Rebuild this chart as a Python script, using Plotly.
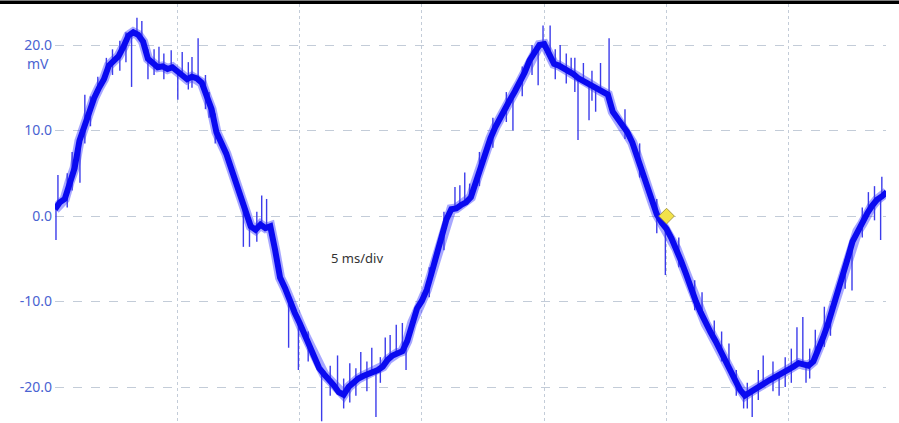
import plotly.graph_objects as go

# ---- data ----
t_step_ms = 0.2
signal_mv = [
    0.8, 1.6, 2.0, 4.0, 5.6, 8.8, 10.6, 12.4, 13.8, 15.0,
    16.0, 17.6, 18.1, 18.7, 19.8, 21.1, 21.5, 21.2, 20.4, 18.4,
    17.9, 17.4, 17.5, 17.2, 17.4, 17.0, 16.4, 16.0, 16.3, 16.1,
    15.6, 14.0, 12.5, 9.8, 8.7, 7.3, 5.6, 4.0, 2.4, 0.5,
    -1.2, -1.6, -1.0, -1.4, -1.2, -4.0, -7.2, -8.4, -10.0, -11.3,
    -12.5, -13.8, -15.1, -16.5, -17.8, -18.5, -19.1, -19.8, -20.6, -20.9,
    -20.0, -19.4, -19.0, -18.7, -18.5, -18.3, -18.0, -17.6, -16.8, -16.3,
    -16.0, -15.8, -14.6, -12.5, -10.8, -9.9, -8.6, -6.6, -4.6, -2.4,
    -0.4, 0.8, 0.9, 1.3, 1.6, 2.2, 4.0, 6.0, 7.8, 9.1,
    10.4, 11.6, 12.6, 13.6, 14.6, 15.6, 16.8, 18.2, 19.2, 20.0,
    20.1, 18.9, 17.8, 17.6, 17.3, 16.9, 16.6, 16.1, 15.8, 15.5,
    15.2, 14.8, 14.5, 14.2, 12.2, 11.4, 10.5, 9.8, 8.6, 7.0,
    4.9, 3.4, 1.8, 0.2, -0.8, -1.5, -2.6, -3.8, -5.3, -6.8,
    -8.6, -10.0, -11.3, -12.6, -13.6, -14.6, -15.8, -16.9, -18.0, -19.2,
    -20.3, -21.0, -20.6, -20.2, -19.8, -19.5, -19.2, -18.9, -18.6, -18.3,
    -18.0, -17.6, -17.2, -17.4, -17.5, -17.0, -15.8, -14.2, -12.6, -10.8,
    -8.6, -6.9, -5.0, -3.0, -1.8, -0.9, 0.3, 1.2, 1.9, 2.3,
    2.8,
]
time_ms = [round(i * t_step_ms, 1) for i in range(len(signal_mv))]

spike_t = [0.04, 0.12, 0.5, 0.7, 1.02, 1.22, 1.45, 1.75, 2.1, 2.35,
           2.65, 2.9, 3.13, 3.35, 3.55, 3.8, 4.05, 4.25, 4.45, 4.75,
           5.02, 5.2, 5.45, 5.6, 5.85, 6.15, 6.3, 6.55, 7.7, 7.95,
           8.25, 8.45, 8.65, 9.55, 9.95, 10.35, 10.9, 11.25, 11.55, 11.8,
           12.05, 12.3, 12.5, 12.75, 12.95, 13.12, 13.3, 13.5, 13.7, 13.95,
           14.2, 14.35, 15.3, 15.9, 16.35, 16.55, 16.75, 16.95, 17.35, 17.9,
           18.45, 18.72, 19.1, 19.5, 19.75, 19.95, 20.24, 20.45, 20.65, 20.9,
           21.1, 21.25, 21.38, 21.6, 21.83, 21.95, 22.1, 22.3, 22.65, 23.3,
           23.9, 24.6, 24.95, 25.5, 26.15, 26.45, 26.95, 27.25, 27.55, 27.85,
           28.15, 28.3, 28.5, 28.75, 28.95, 29.35, 29.6, 29.85, 30.1, 30.33,
           30.57, 30.7, 30.85, 31.08, 31.45, 31.7, 32.3, 32.58, 33.0, 33.25,
           33.5, 33.75, 33.8]
spike_lo = [-2.8, 1.0, 1.0, 3.0, 3.9, 8.5, 10.5, 14.5, 16.0, 16.5,
            17.0, 18.0, 15.1, 21.0, 20.5, 16.0, 16.5, 17.2, 16.0, 17.2,
            13.6, 16.4, 14.8, 15.0, 16.1, 12.5, 11.5, 8.5, -3.6, -3.6,
            -3.0, -1.0, -1.4, -15.4, -18.0, -17.0, -24.0, -21.0, -20.5, -22.5,
            -21.8, -21.0, -19.0, -20.5, -18.4, -23.5, -19.5, -17.6, -16.8, -16.1,
            -15.8, -18.0, -9.5, -4.0, 0.9, 1.2, 1.5, 2.0, 3.5, 8.0,
            11.0, 10.0, 14.0, 16.5, 15.3, 20.0, 19.0, 16.0, 17.5, 15.5,
            16.8, 14.5, 8.9, 15.8, 11.2, 13.5, 12.2, 14.6, 14.2, 9.0,
            4.5, -2.0, -6.9, -6.0, -11.0, -11.5, -14.6, -17.0, -17.9, -21.0,
            -22.5, -22.5, -23.5, -21.5, -19.7, -20.5, -21.0, -20.0, -19.5, -17.3,
            -17.3, -19.5, -19.0, -17.0, -15.3, -14.0, -8.5, -8.7, -2.5, 0.3,
            -0.5, -2.8, 2.3]
spike_hi = [1.0, 4.8, 5.0, 7.5, 8.8, 14.2, 14.0, 16.3, 18.5, 19.5,
            20.5, 21.5, 21.3, 23.2, 22.8, 19.5, 19.5, 19.8, 19.0, 19.4,
            17.0, 19.2, 18.0, 18.6, 20.8, 16.5, 14.5, 12.0, 1.4, -1.2,
            0.5, 2.4, 2.0, -9.8, -12.5, -13.5, -17.8, -17.5, -16.3, -19.0,
            -17.2, -17.8, -15.9, -17.0, -15.4, -18.2, -16.5, -14.2, -13.9, -12.7,
            -12.5, -15.0, -6.0, 0.5, 3.4, 3.6, 5.1, 3.8, 7.5, 11.5,
            14.5, 13.8, 17.5, 20.0, 20.0, 22.3, 22.3, 19.5, 20.0, 19.0,
            18.5, 18.5, 16.3, 17.9, 15.5, 17.0, 15.2, 17.9, 20.8, 12.5,
            8.5, 2.0, -1.5, -2.5, -7.5, -8.9, -12.2, -13.5, -14.9, -18.0,
            -20.8, -19.5, -20.4, -18.0, -16.3, -17.0, -18.6, -16.5, -15.5, -13.0,
            -11.8, -17.3, -15.5, -13.3, -10.6, -10.5, -5.0, -3.0, 1.0, 2.8,
            3.5, 2.3, 4.6]

marker_t = [25.0]
marker_mv = [0.0]

y_tick_vals = [-20, -10, 0, 10, 20]
y_tick_text = ["-20.0", "-10.0", "0.0", "10.0", "20.0"]
unit_label = "mV"
timebase_label = "5 ms/div"

# ---- figure ----
TRACE = "rgb(10,10,240)"
LABEL = "#4a63d2"
GRID = "#c3ccd8"

sx, sy = [], []
for t, lo, hi in zip(spike_t, spike_lo, spike_hi):
    sx += [t, t, None]
    sy += [lo, hi, None]

fig = go.Figure()
fig.add_trace(go.Scatter(x=time_ms, y=signal_mv, mode="lines",
                         line=dict(color="rgba(60,60,255,0.45)", width=10),
                         hoverinfo="skip", showlegend=False))
fig.add_trace(go.Scatter(x=sx, y=sy, mode="lines",
                         line=dict(color="rgb(60,60,235)", width=1.4),
                         hoverinfo="skip", showlegend=False))
fig.add_trace(go.Scatter(x=time_ms, y=signal_mv, mode="lines",
                         line=dict(color=TRACE, width=6),
                         showlegend=False))
fig.add_trace(go.Scatter(x=marker_t, y=marker_mv, mode="markers",
                         marker=dict(symbol="diamond", size=12, color="#f2e24a",
                                     line=dict(color="#a89c48", width=1)),
                         showlegend=False))

fig.add_annotation(x=0, xref="paper", xanchor="right", xshift=-4,
                   y=17.9, yref="y", text=unit_label, showarrow=False,
                   font=dict(family="Noto Sans", size=14, color=LABEL))
fig.add_annotation(x=12.35, y=-4.9, text=timebase_label, showarrow=False,
                   font=dict(family="Noto Sans", size=13, color="#333333"))

fig.add_shape(type="rect", xref="paper", yref="paper",
              x0=-0.2, x1=1.2, y0=1.0, y1=1.0 + 3.5 / 419,
              fillcolor="black", line=dict(width=0), layer="above")

fig.update_layout(
    width=899, height=423,
    margin=dict(l=55, r=13, t=4, b=0),
    paper_bgcolor="white", plot_bgcolor="white",
    showlegend=False,
    xaxis=dict(range=[0, 33.97], tick0=0, dtick=5, showticklabels=False,
               showgrid=True, gridcolor=GRID, griddash="dot", gridwidth=1,
               zeroline=False, showline=False, ticks=""),
    yaxis=dict(range=[-24.2, 24.8], tickvals=y_tick_vals, ticktext=y_tick_text,
               tickfont=dict(family="Noto Sans", size=14, color=LABEL),
               showgrid=True, gridcolor=GRID, griddash="dash", gridwidth=1,
               zeroline=False, showline=False, ticks="", ticklabelstandoff=2),
)

fig.write_html("out.html",
               config={"displayModeBar": False},
               post_script="document.body.style.margin='0';document.body.style.overflow='hidden';")
